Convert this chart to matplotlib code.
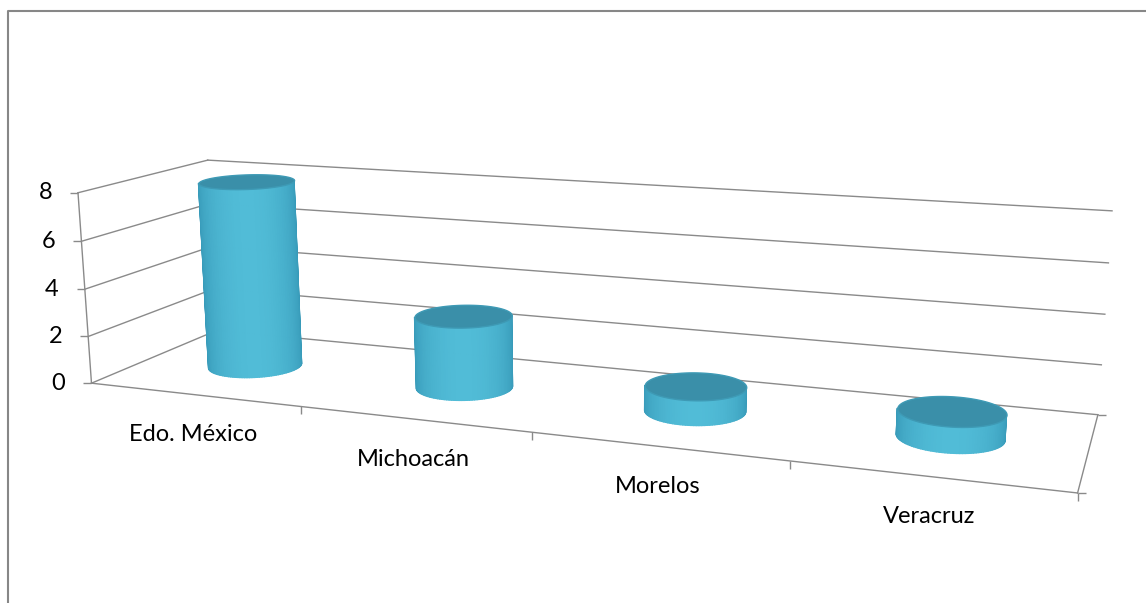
#!/usr/bin/env python
"""3d cylinder chart: casos por estado"""

import numpy as np
from matplotlib import pyplot as plt
from matplotlib import text as mtext
from matplotlib import transforms as mtransforms
from matplotlib.lines import Line2D
from mpl_toolkits.mplot3d.art3d import Poly3DCollection

estados = ["Edo. México", "Michoacán", "Morelos", "Veracruz"]
valores = [8, 3, 1, 1]
ticks_y = [0, 2, 4, 6, 8]

W, H = 1146, 603
plt.rcParams['font.family'] = ['Lato', 'DejaVu Sans']
fig = plt.figure(figsize=(W / 100, H / 100), dpi=100)

# view fitted to the frame of the original picture
ax = fig.add_axes([-0.12419, -0.69184, 1.22164, 2.32172], projection='3d', computed_zorder=False)
ax.set_xlim(0, len(estados))
ax.set_ylim(0, 1)
ax.set_zlim(0, ticks_y[-1])
ax.set_axis_off()
ax.view_init(elev=13.13, azim=-69.40, roll=0.19)
ax.set_proj_type('persp', focal_length=0.2244)
prof = 0.2422
ax.set_box_aspect((1, prof, 0.2027), zoom=0.7253)
M = ax.get_proj()
# empty helper texts of the 3d axes are never needed
for t in ax.findobj(mtext.Text):
	if not t.get_text():
		t.set_visible(False)

def pantalla(X, Y, Z):
	v = M @ np.vstack([X, Y, Z, np.ones_like(X)])
	return ax.transData.transform(np.column_stack([v[0] / v[3], v[1] / v[3]]))

n = len(estados)
gris = '#8a8a8a'
for z in ticks_y:
	ax.plot([0, n], [1, 1], [z, z], color=gris, lw=1.0, zorder=1)
	ax.plot([0, 0], [0, 1], [z, z], color=gris, lw=1.0, zorder=1)
ax.plot([0, n], [0, 0], [0, 0], color=gris, lw=1.0, zorder=1)
ax.plot([n, n], [0, 1], [0, 0], color=gris, lw=1.0, zorder=1)
ax.plot([0, 0], [0, 0], [0, ticks_y[-1]], color=gris, lw=1.0, zorder=1)
ax.plot([0] * len(ticks_y), [0] * len(ticks_y), ticks_y, ls='none', marker=0, ms=6, mew=1, color=gris, zorder=1)
ax.plot(list(range(1, n + 1)), [0] * n, [0] * n, ls='none', marker=3, ms=6, mew=1, color=gris, zorder=1)
ax.plot([n, n], [0, 1], [0, 0], ls='none', marker=1, ms=6, mew=1, color=gris, zorder=1)

# cylinders, only the faces turned to the camera
rx = 0.2
ry = rx * (1 / n) / prof
phi = np.linspace(0, 2 * np.pi, 121)
c_mid = np.array([0x51, 0xbc, 0xd7]) / 255
c_edge = np.array([0x36, 0x98, 0xb7]) / 255
for i, v in enumerate(valores):
	xs = i + 0.5 + rx * np.cos(phi)
	ys = 0.5 + ry * np.sin(phi)
	abajo = pantalla(xs, ys, np.zeros_like(xs))
	arriba = pantalla(xs, ys, np.full_like(xs, v))
	caras = []
	centros = []
	for j in range(len(phi) - 1):
		q = np.array([abajo[j], abajo[j + 1], arriba[j + 1], arriba[j]])
		area = 0.5 * np.sum(q[:, 0] * np.roll(q[:, 1], -1) - np.roll(q[:, 0], -1) * q[:, 1])
		if area > 0:
			caras.append([(xs[j], ys[j], 0), (xs[j + 1], ys[j + 1], 0), (xs[j + 1], ys[j + 1], v), (xs[j], ys[j], v)])
			centros.append(0.5 * (abajo[j, 0] + abajo[j + 1, 0]))
	centros = np.array(centros)
	t = (centros - abajo[:, 0].min()) / (abajo[:, 0].max() - abajo[:, 0].min())
	s = np.sin(np.pi * np.clip(t, 0, 1))
	colores = [c_edge + (c_mid - c_edge) * k ** 0.5 for k in s]
	lado = Poly3DCollection(caras, facecolors=colores, edgecolors=colores, linewidths=0.9, zorder=3 + 2 * i)
	ax.add_collection3d(lado)
	tapa = Poly3DCollection([list(zip(xs, ys, [v] * len(xs)))], facecolors='#3a8fa9', edgecolors='#3e9ab5', linewidths=1.0, zorder=4 + 2 * i)
	ax.add_collection3d(tapa)

off_y = mtransforms.ScaledTranslation(-0.26, 0, fig.dpi_scale_trans)
for z in ticks_y:
	ax.text(0, 0, z, str(z), ha='right', va='center', fontsize=17, transform=ax.transData + off_y)
off_x = mtransforms.ScaledTranslation(0, -0.40, fig.dpi_scale_trans)
for i, nombre in enumerate(estados):
	ax.text(i + 0.5, 0, 0, nombre, ha='center', va='center', fontsize=17, transform=ax.transData + off_x)

# chart area border
fig.add_artist(Line2D([7.5 / W, 7.5 / W, 1.1], [-0.1, 1 - 10.5 / H, 1 - 10.5 / H], color='#878787', lw=1.5))

fig.savefig('out.png', dpi=100)
